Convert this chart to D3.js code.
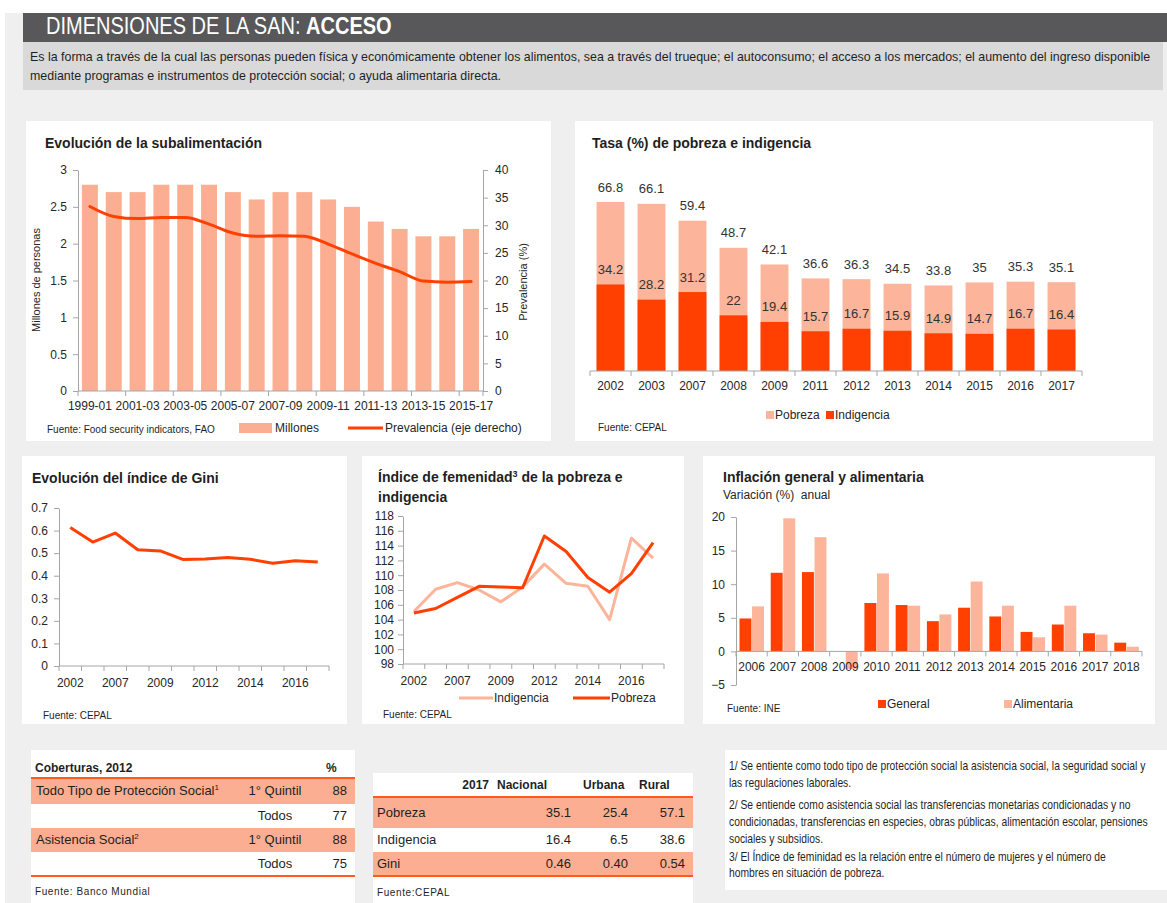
<!DOCTYPE html>
<html>
<head>
<meta charset="utf-8">
<script src="https://cdn.jsdelivr.net/npm/d3@7"></script>
<style>
  body { margin: 0; background: #fff; }
  svg { display: block; font-family: "Liberation Sans", Arial, sans-serif; }
  .axis path, .axis line { stroke: #a6a6a6; }
  .axis text { fill: #262626; font-size: 12px; font-family: "Liberation Sans", Arial, sans-serif; }
</style>
</head>
<body>
<div id="chart"></div>
<script>
// datos: subalimentación (FAO)
var subPeriodos = ["1999-01", "2000-02", "2001-03", "2002-04", "2003-05", "2004-06", "2005-07", "2006-08",
  "2007-09", "2008-10", "2009-11", "2010-12", "2011-13", "2012-14", "2013-15", "2014-16", "2015-17"];
var subMillones = [2.8, 2.7, 2.7, 2.8, 2.8, 2.8, 2.7, 2.6, 2.7, 2.7, 2.6, 2.5, 2.3, 2.2, 2.1, 2.1, 2.2];
var subPrevalencia = [33.4, 31.6, 31.2, 31.4, 31.4, 30.2, 28.6, 28.0, 28.1, 28.0, 26.6, 24.8, 23.1, 21.6, 19.9, 19.7, 19.8];

// datos: pobreza, indigencia, gini, feminidad (CEPAL)
var anios = ["2002", "2003", "2007", "2008", "2009", "2011", "2012", "2013", "2014", "2015", "2016", "2017"];
var pobreza = [66.8, 66.1, 59.4, 48.7, 42.1, 36.6, 36.3, 34.5, 33.8, 35, 35.3, 35.1];
var indigencia = [34.2, 28.2, 31.2, 22, 19.4, 15.7, 16.7, 15.9, 14.9, 14.7, 16.7, 16.4];
var gini = [0.614, 0.549, 0.589, 0.515, 0.510, 0.472, 0.474, 0.481, 0.473, 0.455, 0.466, 0.461];
var femIndigencia = [105.1, 108.1, 109.0, 108.0, 106.4, 108.4, 111.5, 108.9, 108.5, 104.0, 115.0, 112.3];
var femPobreza = [104.9, 105.5, 107.0, 108.5, 108.4, 108.3, 115.3, 113.2, 109.7, 107.7, 110.2, 114.4];
var anioEtiquetas = ["2002", "2007", "2009", "2012", "2014", "2016"];

// datos: inflación (INE)
var inflAnios = ["2006", "2007", "2008", "2009", "2010", "2011", "2012", "2013", "2014", "2015", "2016", "2017", "2018"];
var inflGeneral = [4.9, 11.7, 11.8, 0, 7.2, 6.9, 4.5, 6.5, 5.2, 2.9, 4.0, 2.7, 1.3];
var inflAlimentaria = [6.7, 19.8, 17.0, -2.6, 11.6, 6.8, 5.5, 10.4, 6.8, 2.1, 6.8, 2.5, 0.7];

// tablas
var cobProgramas = ["Todo Tipo de Protección Social", "", "Asistencia Social", ""];
var cobNotas = ["1", "", "2", ""];
var cobGrupos = ["1° Quintil", "Todos", "1° Quintil", "Todos"];
var cobValores = [88, 77, 88, 75];
var t2Indicadores = ["Pobreza", "Indigencia", "Gini"];
var t2Nacional = ["35.1", "16.4", "0.46"];
var t2Urbana = ["25.4", "6.5", "0.40"];
var t2Rural = ["57.1", "38.6", "0.54"];

var textoIntro = [
  "Es la forma a través de la cual las personas pueden física y económicamente obtener los alimentos, sea a través del trueque; el autoconsumo; el acceso a los mercados; el aumento del ingreso disponible",
  "mediante programas e instrumentos de protección social; o ayuda alimentaria directa."
];
var notas = [
  "1/ Se entiente como todo tipo de protección social la asistencia social, la seguridad social y",
  "las regulaciones laborales.",
  "2/ Se entiende como asistencia social las transferencias monetarias condicionadas y no",
  "condicionadas, transferencias en especies, obras públicas, alimentación escolar, pensiones",
  "sociales y subsidios.",
  "3/ El Índice de feminidad es la relación entre el número de mujeres y el número de",
  "hombres en situación de pobreza."
];

// colores
var naranja = "#ff4000";
var salmon = "#fbae91";
var salmonClaro = "#fcb49a";
var oscuro = "#1f1f1f";

var width = 1167, height = 903;
var svg = d3.select("#chart").append("svg").attr("width", width).attr("height", height);

// texto condensado (no hay fuente narrow instalada)
function textoAngosto(x, y, t, size, escala) {
  return svg.append("text")
    .attr("transform", "translate(" + x + "," + y + ") scale(" + escala + ",1)")
    .attr("fill", oscuro).style("font-size", size + "px").text(t);
}

// fondo de página
svg.append("rect").attr("x", 5).attr("y", 13).attr("width", width - 5).attr("height", height - 13).attr("fill", "#efefef");

// encabezado
svg.append("rect").attr("x", 23).attr("y", 13).attr("width", width - 23).attr("height", 29).attr("fill", "#58585a");
svg.append("rect").attr("x", 23).attr("y", 42).attr("width", 1140).attr("height", 48).attr("fill", "#d9d9d9");
var titulo = textoAngosto(46, 34, "", 23, 0.87).attr("fill", "#fff");
titulo.append("tspan").text("DIMENSIONES DE LA SAN: ");
titulo.append("tspan").style("font-weight", "bold").text("ACCESO");
textoIntro.forEach(function (t, i) {
  textoAngosto(30, 61 + i * 19, t, 13, 0.955);
});

// paneles blancos
function panel(x, y, w, h) {
  svg.append("rect").attr("x", x).attr("y", y).attr("width", w).attr("height", h).attr("fill", "#fff");
}
function tituloPanel(x, y, t) {
  return svg.append("text").attr("x", x).attr("y", y).attr("fill", oscuro)
    .style("font-size", "14px").style("font-weight", "bold").text(t);
}
function textoPeq(x, y, t, size) {
  return svg.append("text").attr("x", x).attr("y", y).attr("fill", oscuro)
    .style("font-size", (size || 10) + "px").text(t);
}
// marcas del eje x en los límites de cada categoría
function marcasBanda(g, escala, y0, cada, largo) {
  var paso = escala.step();
  var inicio = escala.range()[0];
  var n = escala.domain().length;
  var lims = d3.range(0, n + 1).filter(function (k) { return k % cada === 0 || k === n; });
  g.selectAll("line.lim").data(lims).enter().append("line").attr("class", "lim")
    .attr("x1", function (k) { return inicio + k * paso; })
    .attr("x2", function (k) { return inicio + k * paso; })
    .attr("y1", y0).attr("y2", y0 + largo)
    .attr("stroke", "#a6a6a6");
  g.append("line").attr("x1", escala.range()[0]).attr("x2", escala.range()[1])
    .attr("y1", y0).attr("y2", y0).attr("stroke", "#a6a6a6");
}

panel(26, 121, 525, 320);
panel(575, 121, 578, 320);
panel(22, 456, 325, 268);
panel(362, 456, 322, 268);
panel(703, 456, 452, 268);

// ---------- 1. Evolución de la subalimentación ----------
tituloPanel(45, 148, "Evolución de la subalimentación");
var x1 = d3.scaleBand().domain(subPeriodos).range([78, 483]).paddingInner(0.33).paddingOuter(0.165);
var y1 = d3.scaleLinear().domain([0, 3]).range([391, 170]);
var y1d = d3.scaleLinear().domain([0, 40]).range([391, 170]);

svg.append("g").selectAll("rect").data(subMillones).enter().append("rect")
  .attr("x", function (d, i) { return x1(subPeriodos[i]); })
  .attr("y", function (d) { return y1(d); })
  .attr("width", x1.bandwidth())
  .attr("height", function (d) { return y1(0) - y1(d); })
  .attr("fill", salmon);

var linea1 = d3.line()
  .x(function (d, i) { return x1(subPeriodos[i]) + x1.bandwidth() / 2; })
  .y(function (d) { return y1d(d); })
  .curve(d3.curveMonotoneX);
svg.append("path").datum(subPrevalencia).attr("d", linea1)
  .attr("fill", "none").attr("stroke", naranja).attr("stroke-width", 3).attr("stroke-linecap", "round");

svg.append("g").attr("class", "axis").attr("transform", "translate(78,0)")
  .call(d3.axisLeft(y1).tickValues(d3.range(0, 3.01, 0.5)).tickSize(5).tickSizeOuter(0).tickPadding(6).tickFormat(d3.format("")));
svg.append("g").attr("class", "axis").attr("transform", "translate(483,0)")
  .call(d3.axisRight(y1d).tickValues(d3.range(0, 41, 5)).tickSize(5).tickSizeOuter(0).tickPadding(7));
var gx1 = svg.append("g").attr("class", "axis").attr("transform", "translate(0,391)");
gx1.call(d3.axisBottom(x1).tickValues(subPeriodos.filter(function (d, i) { return i % 2 === 0; }))
  .tickSize(0).tickPadding(10));
gx1.select(".domain").remove();
marcasBanda(svg.append("g"), x1, 391, 2, 5);

svg.append("text").attr("transform", "translate(40,280) rotate(-90)").attr("text-anchor", "middle")
  .attr("fill", "#262626").style("font-size", "11px").text("Millones de personas");
svg.append("text").attr("transform", "translate(527,282) rotate(-90)").attr("text-anchor", "middle")
  .attr("fill", "#262626").style("font-size", "11px").text("Prevalencia (%)");

textoPeq(47, 433, "Fuente: Food security indicators, FAO");
svg.append("rect").attr("x", 239).attr("y", 423).attr("width", 33).attr("height", 10).attr("fill", salmon);
textoPeq(275, 432, "Millones", 12).attr("fill", "#262626");
svg.append("line").attr("x1", 348).attr("x2", 383).attr("y1", 428).attr("y2", 428)
  .attr("stroke", naranja).attr("stroke-width", 3);
textoPeq(385, 432, "Prevalencia (eje derecho)", 12).attr("fill", "#262626");

// ---------- 2. Tasa de pobreza e indigencia ----------
tituloPanel(592, 148, "Tasa (%) de pobreza e indigencia");
var x2 = d3.scaleBand().domain(anios).range([590, 1082]).paddingInner(0.32).paddingOuter(0.16);
var y2 = d3.scaleLinear().domain([0, 70]).range([371, 371 - 70 * 2.53]);

var g2 = svg.append("g");
g2.selectAll("rect.pob").data(pobreza).enter().append("rect").attr("class", "pob")
  .attr("x", function (d, i) { return x2(anios[i]); })
  .attr("y", function (d) { return y2(d); })
  .attr("width", x2.bandwidth())
  .attr("height", function (d) { return y2(0) - y2(d); })
  .attr("fill", salmonClaro);
g2.selectAll("rect.ind").data(indigencia).enter().append("rect").attr("class", "ind")
  .attr("x", function (d, i) { return x2(anios[i]); })
  .attr("y", function (d) { return y2(d); })
  .attr("width", x2.bandwidth())
  .attr("height", function (d) { return y2(0) - y2(d); })
  .attr("fill", naranja);
g2.selectAll("text.pob").data(pobreza).enter().append("text").attr("class", "pob")
  .attr("x", function (d, i) { return x2(anios[i]) + x2.bandwidth() / 2; })
  .attr("y", function (d) { return y2(d) - 15; })
  .attr("dy", "0.35em").attr("text-anchor", "middle")
  .attr("fill", "#333").style("font-size", "13px").text(function (d) { return d; });
g2.selectAll("text.ind").data(indigencia).enter().append("text").attr("class", "ind")
  .attr("x", function (d, i) { return x2(anios[i]) + x2.bandwidth() / 2; })
  .attr("y", function (d) { return y2(d) - 15; })
  .attr("dy", "0.35em").attr("text-anchor", "middle")
  .attr("fill", "#333").style("font-size", "13px").text(function (d) { return d; });

var gx2 = svg.append("g").attr("class", "axis").attr("transform", "translate(0,371)");
gx2.call(d3.axisBottom(x2).tickSize(0).tickPadding(10));
gx2.select(".domain").remove();
marcasBanda(svg.append("g"), x2, 371, 1, 5);

svg.append("rect").attr("x", 766).attr("y", 411).attr("width", 8).attr("height", 8).attr("fill", salmonClaro);
textoPeq(775, 419, "Pobreza", 12).attr("fill", "#262626");
svg.append("rect").attr("x", 826).attr("y", 411).attr("width", 8).attr("height", 8).attr("fill", naranja);
textoPeq(835, 419, "Indigencia", 12).attr("fill", "#262626");
textoPeq(598, 431, "Fuente: CEPAL");

// ---------- 3. Gini ----------
tituloPanel(32, 483, "Evolución del índice de Gini");
var xg = d3.scaleBand().domain(anios).range([59, 329]);
var yg = d3.scaleLinear().domain([0, 0.7]).range([666, 508]);
svg.append("g").attr("class", "axis").attr("transform", "translate(59,0)")
  .call(d3.axisLeft(yg).tickValues(d3.range(0, 0.71, 0.1)).tickSize(5).tickSizeOuter(0).tickPadding(6).tickFormat(d3.format(".1~f")));
var gxg = svg.append("g").attr("class", "axis").attr("transform", "translate(0,666)");
gxg.call(d3.axisBottom(xg).tickValues(anioEtiquetas).tickSize(0).tickPadding(12));
gxg.select(".domain").remove();
marcasBanda(svg.append("g"), xg, 666, 1, 5);
svg.append("path").datum(gini)
  .attr("d", d3.line()
    .x(function (d, i) { return xg(anios[i]) + xg.bandwidth() / 2; })
    .y(function (d) { return yg(d); }))
  .attr("fill", "none").attr("stroke", naranja).attr("stroke-width", 3).attr("stroke-linejoin", "round");
textoPeq(43, 719, "Fuente: CEPAL");

// ---------- 4. Índice de feminidad ----------
var tf = tituloPanel(378, 482, "Índice de femenidad");
tf.append("tspan").attr("dy", -5).style("font-size", "9px").text("3");
tf.append("tspan").attr("dy", 5).text(" de la pobreza e");
tituloPanel(378, 502, "indigencia");
var xf = d3.scaleBand().domain(anios).range([403, 664]);
var yf = d3.scaleLinear().domain([98, 118]).range([664, 516]);
svg.append("g").attr("class", "axis").attr("transform", "translate(403,0)")
  .call(d3.axisLeft(yf).tickValues(d3.range(98, 119, 2)).tickSize(5).tickSizeOuter(0).tickPadding(4));
var gxf = svg.append("g").attr("class", "axis").attr("transform", "translate(0,664)");
gxf.call(d3.axisBottom(xf).tickValues(anioEtiquetas).tickSize(0).tickPadding(12));
gxf.select(".domain").remove();
marcasBanda(svg.append("g"), xf, 664, 1, 5);
var lineaF = d3.line()
  .x(function (d, i) { return xf(anios[i]) + xf.bandwidth() / 2; })
  .y(function (d) { return yf(d); });
svg.append("path").datum(femIndigencia).attr("d", lineaF)
  .attr("fill", "none").attr("stroke", salmonClaro).attr("stroke-width", 3).attr("stroke-linejoin", "round");
svg.append("path").datum(femPobreza).attr("d", lineaF)
  .attr("fill", "none").attr("stroke", naranja).attr("stroke-width", 3).attr("stroke-linejoin", "round");
svg.append("line").attr("x1", 459).attr("x2", 493).attr("y1", 698).attr("y2", 698).attr("stroke", salmonClaro).attr("stroke-width", 3);
textoPeq(494, 702, "Indigencia", 12).attr("fill", "#262626");
svg.append("line").attr("x1", 573).attr("x2", 610).attr("y1", 698).attr("y2", 698).attr("stroke", naranja).attr("stroke-width", 3);
textoPeq(611, 702, "Pobreza", 12).attr("fill", "#262626");
textoPeq(383, 718, "Fuente: CEPAL");

// ---------- 5. Inflación ----------
tituloPanel(723, 482, "Inflación general y alimentaria");
textoPeq(723, 499, "Variación (%)  anual", 12).attr("fill", "#262626").style("white-space", "pre");
var xi = d3.scaleBand().domain(inflAnios).range([736, 1142]);
var xs = d3.scaleBand().domain(["General", "Alimentaria"]).range([3.5, 28]).paddingInner(0.05);
var yi = d3.scaleLinear().domain([-5, 20]).range([685, 517]);
svg.append("g").attr("class", "axis").attr("transform", "translate(736,0)")
  .call(d3.axisLeft(yi).tickValues(d3.range(-5, 21, 5)).tickSize(5).tickSizeOuter(0).tickPadding(6));
var series = [
  { nombre: "General", valores: inflGeneral, color: naranja },
  { nombre: "Alimentaria", valores: inflAlimentaria, color: salmonClaro }
];
series.forEach(function (s) {
  svg.append("g").selectAll("rect").data(s.valores).enter().append("rect")
    .attr("x", function (d, i) { return xi(inflAnios[i]) + xs(s.nombre); })
    .attr("y", function (d) { return yi(Math.max(0, d)); })
    .attr("width", xs.bandwidth())
    .attr("height", function (d) { return Math.abs(yi(d) - yi(0)); })
    .attr("fill", s.color);
});
var gxi = svg.append("g").attr("class", "axis").attr("transform", "translate(0," + yi(0) + ")");
gxi.call(d3.axisBottom(xi).tickSize(0).tickPadding(11));
gxi.select(".domain").remove();
marcasBanda(svg.append("g"), xi, yi(0), 1, 5);
svg.append("rect").attr("x", 878).attr("y", 700).attr("width", 8).attr("height", 8).attr("fill", naranja);
textoPeq(887, 708, "General", 12).attr("fill", "#262626");
svg.append("rect").attr("x", 1004).attr("y", 700).attr("width", 8).attr("height", 8).attr("fill", salmonClaro);
textoPeq(1013, 708, "Alimentaria", 12).attr("fill", "#262626");
textoPeq(727, 712, "Fuente: INE");

// ---------- Tabla coberturas ----------
panel(31, 750, 324, 153);
svg.append("text").attr("x", 35).attr("y", 772).attr("fill", oscuro).style("font-size", "12px").style("font-weight", "bold").text("Coberturas, 2012");
svg.append("text").attr("x", 326).attr("y", 772).attr("fill", oscuro).style("font-size", "12px").style("font-weight", "bold").text("%");
var filasY = [778, 804, 828, 852, 876];
cobValores.forEach(function (v, i) {
  if (i % 2 === 0) {
    svg.append("rect").attr("x", 31).attr("y", filasY[i]).attr("width", 324).attr("height", filasY[i + 1] - filasY[i]).attr("fill", salmon);
  }
  var yb = (filasY[i] + filasY[i + 1]) / 2 + 4;
  if (cobProgramas[i]) {
    var tp = svg.append("text").attr("x", 36).attr("y", yb).attr("fill", oscuro).style("font-size", "13px").text(cobProgramas[i]);
    tp.append("tspan").attr("dy", -5).style("font-size", "8px").text(cobNotas[i]);
  }
  svg.append("text").attr("x", 275).attr("y", yb).attr("text-anchor", "middle").attr("fill", oscuro).style("font-size", "13px").text(cobGrupos[i]);
  svg.append("text").attr("x", 347).attr("y", yb).attr("text-anchor", "end").attr("fill", oscuro).style("font-size", "13px").text(v);
});
svg.append("line").attr("x1", 31).attr("x2", 355).attr("y1", 778).attr("y2", 778).attr("stroke", "#ff5a1f").attr("stroke-width", 2);
svg.append("line").attr("x1", 31).attr("x2", 355).attr("y1", 876).attr("y2", 876).attr("stroke", "#ff5a1f").attr("stroke-width", 2);
textoPeq(35, 895, "Fuente: Banco Mundial").style("letter-spacing", "0.6px");

// ---------- Tabla 2017 ----------
panel(373, 773, 320, 130);
var cab = [["2017", 489, "end"], ["Nacional", 497, "start"], ["Urbana", 583, "start"], ["Rural", 639, "start"]];
cab.forEach(function (c) {
  svg.append("text").attr("x", c[1]).attr("y", 789).attr("text-anchor", c[2]).attr("fill", oscuro)
    .style("font-size", "12px").style("font-weight", "bold").text(c[0]);
});
var filas2Y = [797, 828, 852, 876];
t2Indicadores.forEach(function (d, i) {
  if (i !== 1) {
    svg.append("rect").attr("x", 373).attr("y", filas2Y[i]).attr("width", 320).attr("height", filas2Y[i + 1] - filas2Y[i]).attr("fill", salmon);
  }
  var yb = (filas2Y[i] + filas2Y[i + 1]) / 2 + 4;
  svg.append("text").attr("x", 377).attr("y", yb).attr("fill", oscuro).style("font-size", "13px").text(d);
  [[t2Nacional, 571], [t2Urbana, 628], [t2Rural, 685]].forEach(function (col) {
    svg.append("text").attr("x", col[1]).attr("y", yb).attr("text-anchor", "end").attr("fill", oscuro).style("font-size", "13px").text(col[0][i]);
  });
});
svg.append("line").attr("x1", 373).attr("x2", 693).attr("y1", 797).attr("y2", 797).attr("stroke", "#ff5a1f").attr("stroke-width", 2);
svg.append("line").attr("x1", 373).attr("x2", 693).attr("y1", 876).attr("y2", 876).attr("stroke", "#ff5a1f").attr("stroke-width", 2);
textoPeq(377, 896, "Fuente:CEPAL").style("letter-spacing", "0.6px");

// ---------- Notas ----------
panel(725, 750, 442, 140);
var notasY = [770, 787, 809, 826, 843, 861, 877];
notas.forEach(function (t, i) {
  textoAngosto(729, notasY[i], t, 12, 0.86);
});
</script>
</body>
</html>
